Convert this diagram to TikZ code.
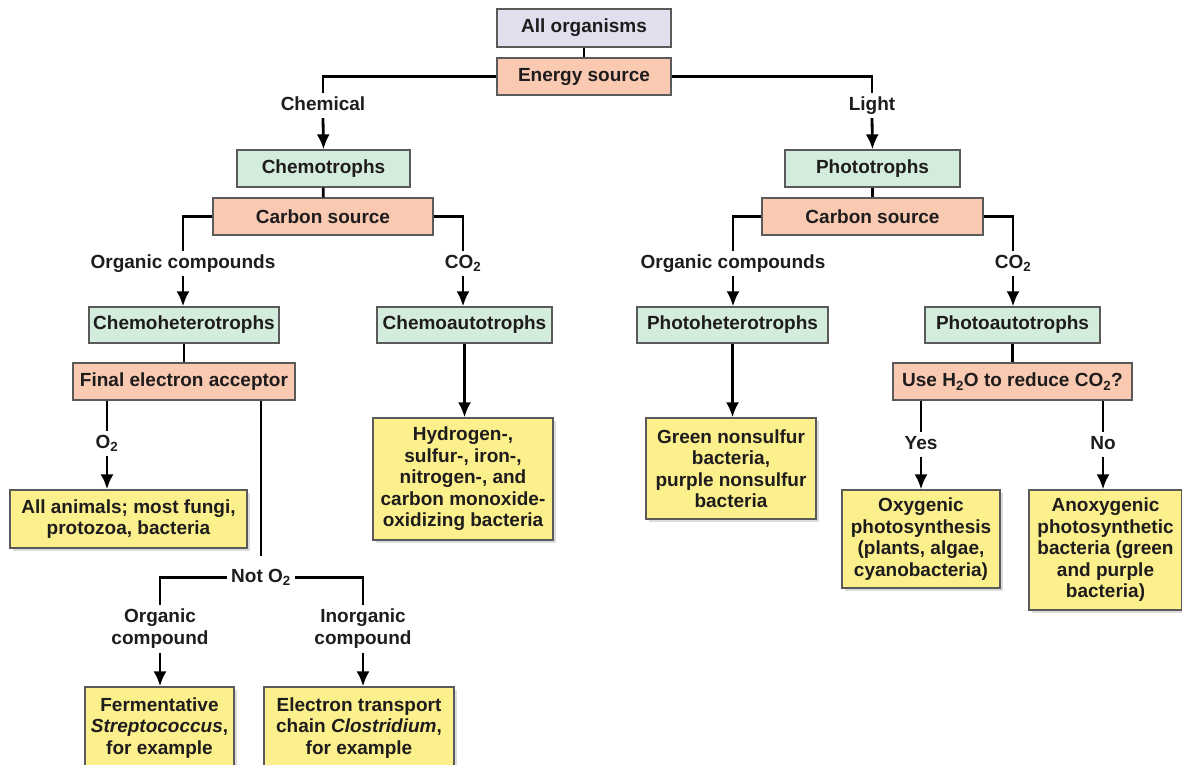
\documentclass[tikz,border=0pt]{standalone}
\usepackage{fontspec}
\setmainfont{Liberation Sans}
\usepackage{xcolor}
\usetikzlibrary{arrows.meta, shadows}

\definecolor{boxline}{RGB}{90,90,90}
\definecolor{textcol}{RGB}{30,28,28}
\definecolor{lavfill}{RGB}{226,222,238}
\definecolor{salmonfill}{RGB}{249,201,178}
\definecolor{greenfill}{RGB}{211,236,219}
\definecolor{yellowfill}{RGB}{252,240,140}

\begin{document}
\begin{tikzpicture}[
        x=1pt, y=-1pt,
        every node/.style={font=\fontsize{19}{21.5}\selectfont\bfseries, text=textcol},
        box/.style={draw=boxline, line width=1.2pt, align=center, inner sep=0pt},
        topbox/.style={box, fill=lavfill},
        srcbox/.style={box, fill=salmonfill},
        grpbox/.style={box, fill=greenfill},
        exbox/.style={box, fill=yellowfill,
            drop shadow={shadow xshift=3pt, shadow yshift=-3pt, fill=gray!55, draw=none}},
        lbl/.style={inner xsep=4pt, inner ysep=4pt, text height=13pt, text depth=4pt, anchor=base},
        lbltwo/.style={inner xsep=4pt, inner ysep=4pt, align=center, anchor=north},
        link/.style={line width=2.8pt, draw=black},
        arrow/.style={link, -{Latex[length=15pt, width=13pt]}}
    ]
        \useasboundingbox (0,0) rectangle (1182,764);

        \node[topbox, minimum width=174pt, minimum height=38pt] (all) at (584,28) {All organisms};
        \node[srcbox, minimum width=174pt, minimum height=37pt] (energy) at (584,76.5) {Energy source};

        \node[lbl] (chemical) at (323,110) {Chemical};
        \node[lbl] (light) at (872,110) {Light};

        \node[grpbox, minimum width=173pt, minimum height=37pt] (chemo) at (323.5,168.5) {Chemotrophs};
        \node[srcbox, minimum width=220pt, minimum height=37pt] (csrcL) at (323,216.5) {Carbon source};
        \node[grpbox, minimum width=175pt, minimum height=37pt] (photo) at (872.5,168.5) {Phototrophs};
        \node[srcbox, minimum width=221pt, minimum height=37pt] (csrcR) at (872.5,216.5) {Carbon source};

        \node[lbl] (orgL) at (183,268) {Organic compounds};
        \node[lbl] (co2L) at (463,268) {CO\textsubscript{2}};
        \node[lbl] (orgR) at (733,268) {Organic compounds};
        \node[lbl] (co2R) at (1013,268) {CO\textsubscript{2}};

        \node[grpbox, minimum width=190pt, minimum height=36pt] (chemohet) at (184,325) {Chemoheterotrophs};
        \node[grpbox, minimum width=175pt, minimum height=36pt] (chemoauto) at (464.5,325) {Chemoautotrophs};
        \node[grpbox, minimum width=191pt, minimum height=36pt] (photohet) at (732.5,325) {Photoheterotrophs};
        \node[grpbox, minimum width=175pt, minimum height=36pt] (photoauto) at (1012.5,325) {Photoautotrophs};

        \node[srcbox, minimum width=222pt, minimum height=37pt] (fea) at (184,381.5) {Final electron acceptor};
        \node[srcbox, minimum width=239pt, minimum height=37pt] (useh2o) at (1012.5,381.5) {Use H\textsubscript{2}O to reduce CO\textsubscript{2}?};

        \node[exbox, minimum width=180pt, minimum height=122pt] (hydro) at (463,479)
            {Hydrogen-,\\sulfur-, iron-,\\nitrogen-, and\\carbon monoxide-\\oxidizing bacteria};
        \node[exbox, minimum width=170pt, minimum height=101pt] (nonsulfur) at (731,468.5)
            {Green nonsulfur\\bacteria,\\purple nonsulfur\\bacteria};

        \node[lbl] (o2) at (107,448) {O\textsubscript{2}};
        \node[lbl] (yes) at (921,449) {Yes};
        \node[lbl] (no) at (1103,449) {No};

        \node[exbox, minimum width=237pt, minimum height=58pt] (animals) at (128.5,519)
            {All animals; most fungi,\\protozoa, bacteria};
        \node[exbox, minimum width=158pt, minimum height=98pt] (oxy) at (921,539)
            {Oxygenic\\photosynthesis\\(plants, algae,\\cyanobacteria)};
        \node[exbox, minimum width=153pt, minimum height=120pt] (anoxy) at (1105.5,550)
            {Anoxygenic\\photosynthetic\\bacteria (green\\and purple\\bacteria)};

        \node[lbl, inner ysep=13pt] (noto2) at (261,582) {Not O\textsubscript{2}};
        \node[lbltwo] (orgc) at (160,605) {Organic\\compound};
        \node[lbltwo] (inorgc) at (363,605) {Inorganic\\compound};

        \node[exbox, minimum width=149pt, minimum height=82pt] (ferm) at (159.5,728)
            {Fermentative\\\textit{Streptococcus},\\for example};
        \node[exbox, minimum width=190pt, minimum height=82pt] (etc) at (359,728)
            {Electron transport\\chain \textit{Clostridium},\\for example};

        \draw[link] (all) -- (energy);
        \draw[link] (energy.west) -| (chemical.north);
        \draw[link] (energy.east) -| (light.north);
        \draw[arrow] (chemical.south) -- (chemo.north);
        \draw[arrow] (light.south) -- (photo.north);

        \draw[link] (chemo) -- (csrcL);
        \draw[link] (csrcL.west) -| (orgL.north);
        \draw[link] (csrcL.east) -| (co2L.north);
        \draw[arrow] (orgL.south) -- (orgL.south |- chemohet.north);
        \draw[arrow] (co2L.south) -- (co2L.south |- chemoauto.north);

        \draw[link] (photo) -- (csrcR);
        \draw[link] (csrcR.west) -| (orgR.north);
        \draw[link] (csrcR.east) -| (co2R.north);
        \draw[arrow] (orgR.south) -- (orgR.south |- photohet.north);
        \draw[arrow] (co2R.south) -- (co2R.south |- photoauto.north);

        \draw[link] (chemohet) -- (fea);
        \draw[link] (fea.south -| o2) -- (o2.north);
        \draw[arrow] (o2.south) -- (o2.south |- animals.north);
        \draw[link] (fea.south -| noto2) -- (noto2.north);
        \draw[link] (noto2.west) -| (orgc.north);
        \draw[link] (noto2.east) -| (inorgc.north);
        \draw[arrow] (orgc.south) -- (orgc.south |- ferm.north);
        \draw[arrow] (inorgc.south) -- (inorgc.south |- etc.north);

        \draw[arrow] (chemoauto.south) -- (chemoauto.south |- hydro.north);
        \draw[arrow] (photohet.south) -- (photohet.south |- nonsulfur.north);

        \draw[link] (photoauto) -- (useh2o);
        \draw[link] (useh2o.south -| yes) -- (yes.north);
        \draw[link] (useh2o.south -| no) -- (no.north);
        \draw[arrow] (yes.south) -- (yes.south |- oxy.north);
        \draw[arrow] (no.south) -- (no.south |- anoxy.north);
    \end{tikzpicture}
\end{document}
